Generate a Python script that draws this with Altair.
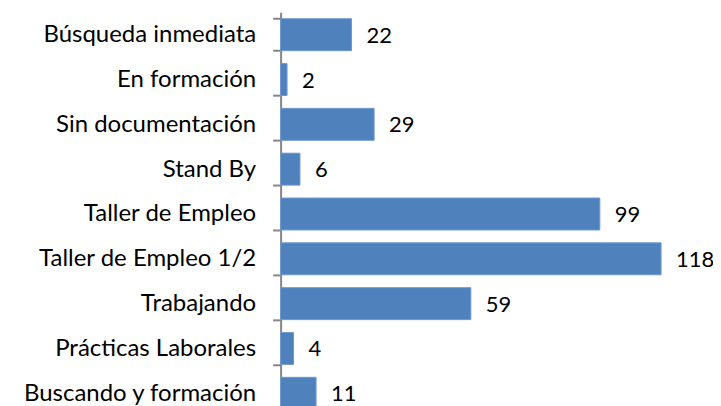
import altair as alt
import pandas as pd

categories = ["Búsqueda inmediata", "En formación\u00a0", "Sin documentación", "Stand By",
              "Taller de Empleo", "Taller de Empleo 1/2", "Trabajando",
              "Prácticas Laborales", "Buscando y formación\u00a0"]
values = [22, 2, 29, 6, 99, 118, 59, 4, 11]

df = pd.DataFrame({"cat": categories, "val": values})

FONT = "Lato"

y = alt.Y("cat:N", sort=categories, title=None,
          scale=alt.Scale(paddingInner=0.287, paddingOuter=0.1435),
          axis=alt.Axis(domainColor="#868686", domainWidth=2, tickColor="#868686",
                        tickWidth=2, tickSize=8, tickBand="extent",
                        labelFont=FONT, labelFontSize=24, labelColor="#000000",
                        labelPadding=17, labelLimit=400))
x = alt.X("val:Q", title=None, scale=alt.Scale(domain=[0, 118], nice=False, zero=True),
          axis=None)

bars = alt.Chart(df).mark_bar(color="#4F81BD", stroke="#6F9AD0", strokeWidth=1).encode(x=x, y=y)
text = alt.Chart(df).mark_text(align="left", baseline="middle", dx=15, dy=1,
                               font=FONT, fontSize=22, color="#000000").encode(
    x=x, y=alt.Y("cat:N", sort=categories), text="val:Q")

chart = (bars + text).properties(
    width=381, height=404, autosize="none",
    padding={"left": 273, "top": 4, "right": 52, "bottom": 0}
).configure(background="white").configure_view(stroke=None)

chart.save("out.html", embed_options={"renderer": "svg", "actions": False})
